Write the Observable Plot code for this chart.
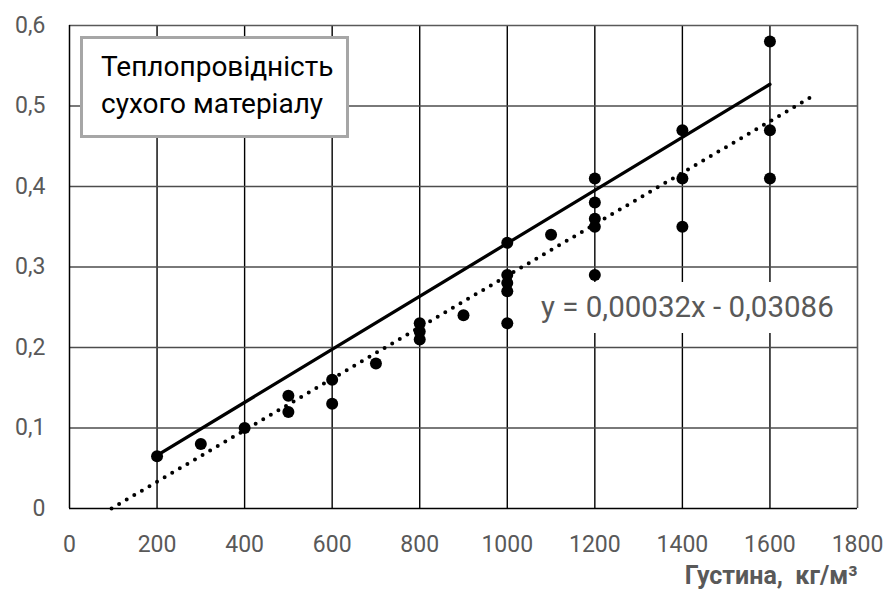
<!DOCTYPE html>
<html><head><meta charset="utf-8">
<script src="https://cdn.jsdelivr.net/npm/d3@7"></script>
<script src="https://cdn.jsdelivr.net/npm/@observablehq/plot@0.6"></script>
<style>
body{margin:0;background:#fff;}
#wrap{position:relative;width:886px;height:592px;font-family:Roboto,"Open Sans",sans-serif;}
#wrap svg{position:absolute;left:0;top:0;}
.legend{position:absolute;left:80px;top:36px;width:263px;height:96px;border:3px solid #a6a6a6;background:#fff;
  font-size:28px;line-height:37px;color:#000;padding:0;box-sizing:content-box;white-space:nowrap;}
.legend div{padding-left:18px;}
.legend .l1{padding-top:9px;}
.eq{position:absolute;left:525px;top:282px;width:327px;height:51px;background:#fff;color:#595959;
  font-size:29.5px;line-height:51px;padding-left:16px;box-sizing:border-box;white-space:nowrap;}
</style>
</head><body>
<div id="wrap"></div>
<script>
// measured data: density (kg/m3) and thermal conductivity
const density = [200,300,400,500,500,600,600,700,800,800,800,900,1000,1000,1000,1000,1000,1100,1200,1200,1200,1200,1200,1400,1400,1400,1600,1600,1600];
const conductivity = [0.065,0.08,0.10,0.14,0.12,0.16,0.13,0.18,0.23,0.22,0.21,0.24,0.33,0.29,0.28,0.27,0.23,0.34,0.41,0.38,0.36,0.35,0.29,0.47,0.41,0.35,0.58,0.47,0.41];
// solid line (dry material)
const solidX = [200,1600];
const solidY = [0.066,0.527];
// dotted linear trend y = 0,00032x - 0,03086
const trendX = [96,1700];
const trendY = [0,0.513];
// axes
const xTicks = [0,200,400,600,800,1000,1200,1400,1600,1800];
const xTickLabels = ["0","200","400","600","800","1000","1200","1400","1600","1800"];
const yTicks = [0,0.1,0.2,0.3,0.4,0.5,0.6];
const yTickLabels = ["0","0,1","0,2","0,3","0,4","0,5","0,6"];
const xGrid = [200,400,600,800,1000,1200,1400,1600];
const yGrid = [0.1,0.2,0.3,0.4,0.5];
const xTitle = "Густина,  кг/м³";
const legendLines = ["Теплопровідність","сухого матеріалу"];
const equation = "y = 0,00032x - 0,03086";

const points = density.map((d,i)=>({x:d,y:conductivity[i]}));
const solid = solidX.map((d,i)=>({x:d,y:solidY[i]}));
const trend = trendX.map((d,i)=>({x:d,y:trendY[i]}));

const chart = Plot.plot({
  width:886, height:592,
  marginLeft:69, marginRight:29, marginTop:25, marginBottom:84,
  style:{fontFamily:"Roboto, 'Open Sans', sans-serif", background:"white"},
  x:{domain:[0,1800]},
  y:{domain:[0,0.6]},
  marks:[
    Plot.ruleX(xGrid,{stroke:"#000",strokeWidth:1.4}),
    Plot.ruleY(yGrid,{stroke:"#4d4d4d",strokeWidth:1.3}),
    Plot.ruleX([1800],{stroke:"#595959",strokeWidth:1.6}),
    Plot.ruleY([0.6],{stroke:"#595959",strokeWidth:1.6}),
    Plot.ruleX([0],{stroke:"#000",strokeWidth:1.5}),
    Plot.ruleY([0],{stroke:"#000",strokeWidth:1.5}),
    Plot.line(trend,{x:"x",y:"y",stroke:"#000",strokeWidth:4,strokeDasharray:"0 8.8",strokeLinecap:"round"}),
    Plot.line(solid,{x:"x",y:"y",stroke:"#000",strokeWidth:3.3}),
    Plot.dot(points,{x:"x",y:"y",r:6,fill:"#000"}),
    Plot.axisX({ticks:xTicks,tickFormat:(d,i)=>xTickLabels[i],tickSize:0,tickPadding:27,fontSize:23,color:"#595959",label:null}),
    Plot.axisY({ticks:yTicks,tickFormat:(d,i)=>yTickLabels[i],tickSize:0,tickPadding:24,fontSize:23,color:"#595959",label:null}),
    Plot.text([xTitle],{frameAnchor:"bottom-right",textAnchor:"end",dy:75,fontSize:25,fontWeight:"bold",fill:"#595959"})
  ]
});
const wrap = document.getElementById("wrap");
wrap.appendChild(chart);
const lg = document.createElement("div");
lg.className = "legend";
legendLines.forEach((t,i)=>{const d=document.createElement("div");d.className=i===0?"l1":"l2";d.textContent=t;lg.appendChild(d);});
wrap.appendChild(lg);
const eq = document.createElement("div");
eq.className = "eq";
eq.textContent = equation;
wrap.appendChild(eq);
</script>
</body></html>
